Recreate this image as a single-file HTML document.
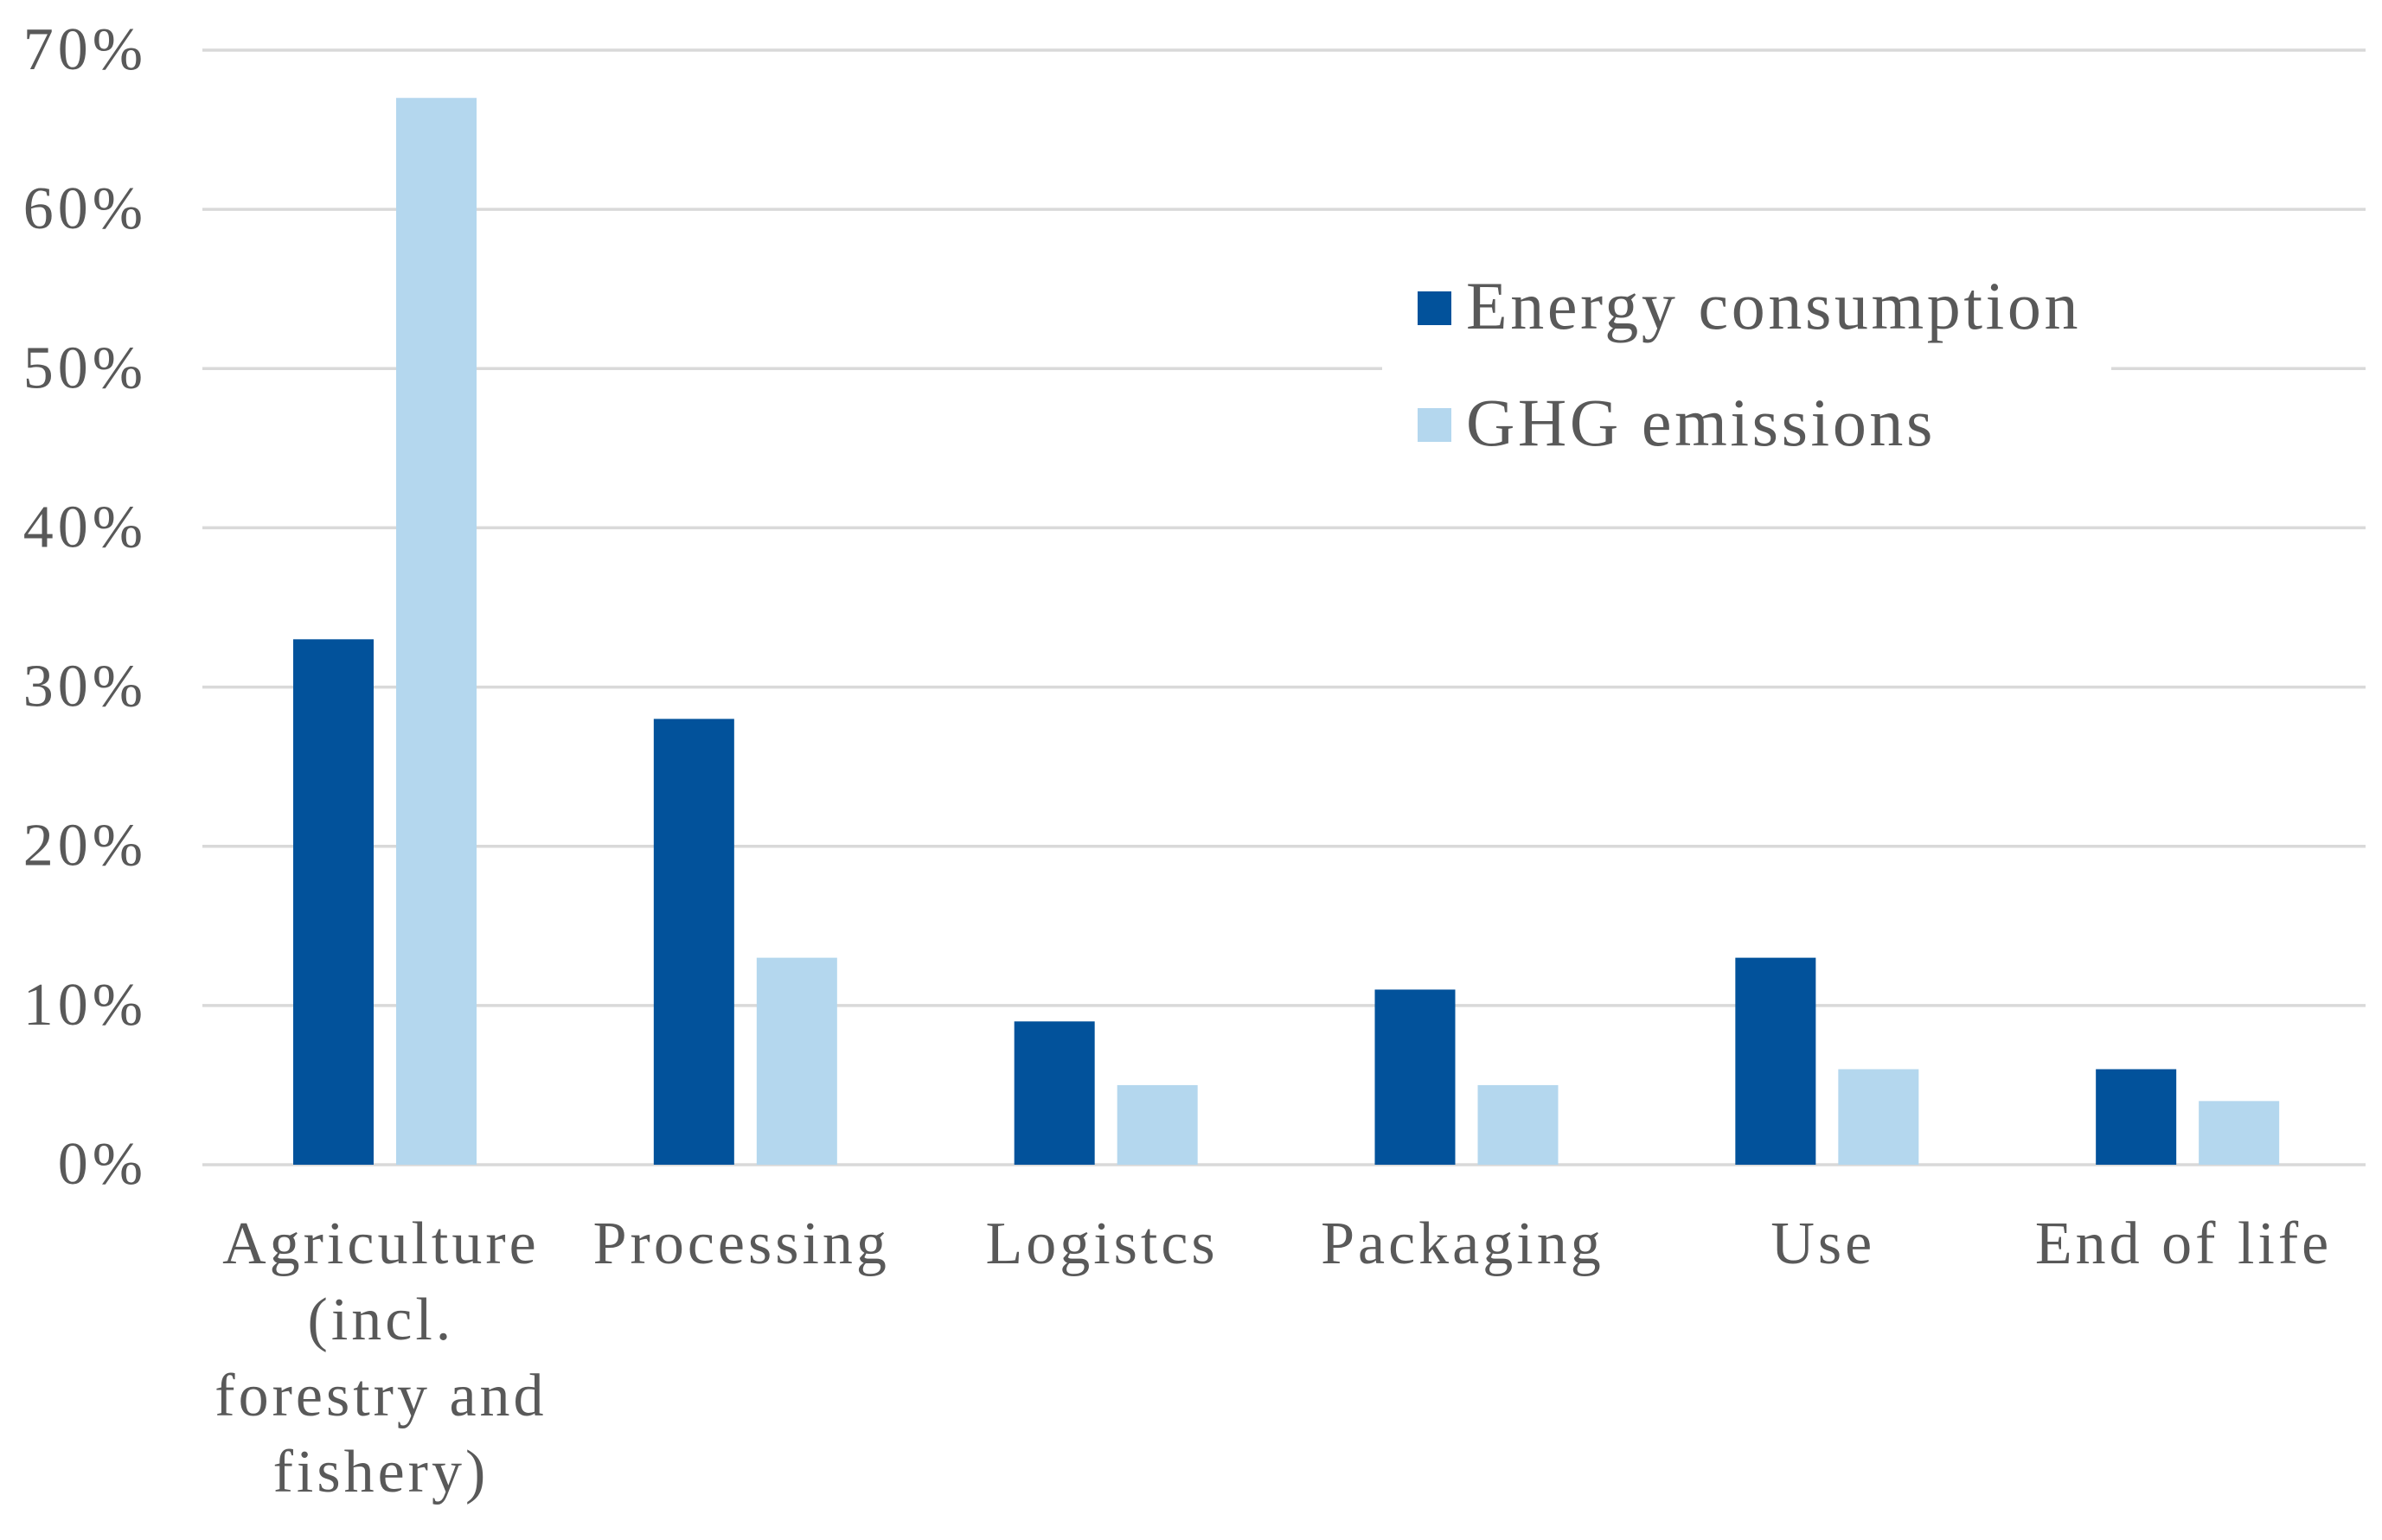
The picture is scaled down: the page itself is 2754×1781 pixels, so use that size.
<!DOCTYPE html>
<html><head><meta charset="utf-8"><style>
html,body{margin:0;padding:0;background:#fff;}
svg{display:block;}
text{font-family:"Liberation Serif",serif;fill:#595959;}
</style></head><body>
<svg id="chart" width="2754" height="1781" viewBox="0 0 2754 1781" xmlns="http://www.w3.org/2000/svg"></svg>
<script>
const categories = [["Agriculture","(incl.","forestry and","fishery)"],["Processing"],["Logistcs"],["Packaging"],["Use"],["End of life"]];
const energyValues = [33, 28, 9, 11, 13, 6];
const ghgValues = [67, 13, 5, 5, 6, 4];
const tickValues = [0, 10, 20, 30, 40, 50, 60, 70];
const tickLabels = ["0%","10%","20%","30%","40%","50%","60%","70%"];
const seriesNames = ["Energy consumption","GHG emissions"];

const NS="http://www.w3.org/2000/svg";
const svg=document.getElementById('chart');
const X0=234, X1=2735, Y0=1347, YT=58, YMAX=70;
const catW=(X1-X0)/categories.length;
const y=v=>Y0-(v/YMAX)*(Y0-YT);
const xCat=i=>X0+i*catW;
function mk(tag,attrs){const e=document.createElementNS(NS,tag);for(const k in attrs)e.setAttribute(k,attrs[k]);svg.appendChild(e);return e;}

tickValues.forEach((v,i)=>{
  const g=mk('line',{x1:X0,x2:X1,y1:y(v),y2:y(v),stroke:'#d9d9d9','stroke-width':3.5});
  
  
  const t=mk('text',{x:170,y:y(v)+22,'text-anchor':'end','font-size':70,'letter-spacing':5});
  t.textContent=tickLabels[i];
  
  
});

const lb=mk('rect',{x:1598,y:300,width:843,height:260,fill:'#fff'});



const barW=93, off=105, gap=26;
categories.forEach((c,i)=>{
  const xe=xCat(i)+off, xg=xe+barW+gap;
  const b1=mk('rect',{x:xe,y:y(energyValues[i]),width:barW,height:Y0-y(energyValues[i]),fill:'#02529b'});
  
  
  const b2=mk('rect',{x:xg,y:y(ghgValues[i]),width:barW,height:Y0-y(ghgValues[i]),fill:'#b4d7ee'});
  
  
  const cx=xCat(i)+catW/2-2;
  c.forEach((ln,j)=>{
    const t=mk('text',{x:cx,y:1461+j*88,'text-anchor':'middle','font-size':70,'letter-spacing':4});
    t.textContent=ln;
    
    
  });
});

const colors=['#02529b','#b4d7ee'];
seriesNames.forEach((n,i)=>{
  const s=mk('rect',{x:1639,y:337+i*135,width:39,height:39,fill:colors[i]});
  
  
  const t=mk('text',{x:1695,y:380+i*135,'font-size':78,'letter-spacing':3.6});
  t.textContent=n;
  
  
});
</script>
</body></html>
